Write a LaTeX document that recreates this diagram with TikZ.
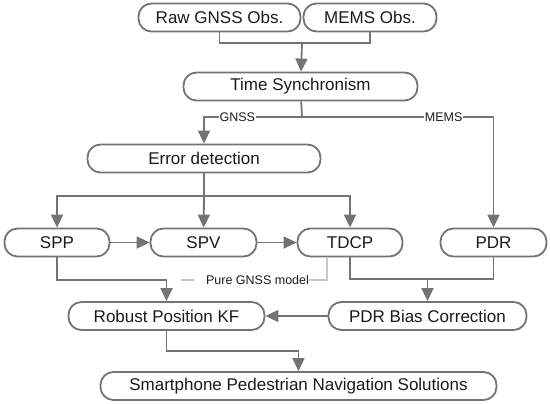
\documentclass[tikz,border=0pt]{standalone}
\usepackage{fontspec}
\setmainfont{Liberation Sans}
\usetikzlibrary{arrows.meta}
\definecolor{linegray}{HTML}{737373}
\definecolor{palegray}{HTML}{C8C8C8}
\definecolor{textblack}{HTML}{1A1A1A}
\begin{document}
\begin{tikzpicture}[x=1pt,y=-1pt,
  box/.style={draw=linegray,line width=1.8pt,rounded corners=13pt,minimum height=28pt,
    inner sep=0pt,text=textblack,font=\fontsize{17}{20}\selectfont},
  line/.style={draw=linegray,line width=1.8pt},
  arr/.style={line,-{Triangle[length=13pt,width=12pt]}},
  pale/.style={draw=palegray,line width=1.8pt},
  lbl/.style={fill=white,inner sep=1pt,text=textblack,font=\fontsize{12.5}{14}\selectfont}]
\useasboundingbox (0,0) rectangle (550,404);
% sources
\node[box,minimum width=162pt] (raw) at (219.5,17.5) {Raw GNSS Obs.};
\node[box,minimum width=133pt] (mems) at (370,17.5) {MEMS Obs.};
\node[box,minimum width=234pt] (sync) at (300.5,86.5) {Time Synchronism};
\node[box,minimum width=233pt] (err) at (204,158.5) {Error detection};
% processing row
\node[box,minimum width=105pt] (spp) at (57,242.5) {SPP};
\node[box,minimum width=106pt] (spv) at (203.5,242.5) {SPV};
\node[box,minimum width=105pt] (tdcp) at (350,242.5) {TDCP};
\node[box,minimum width=106pt] (pdr) at (493.5,242.5) {PDR};
\node[box,minimum width=196pt] (robust) at (166.5,316) {Robust Position KF};
\node[box,minimum width=198pt] (bias) at (427.5,316) {PDR Bias Correction};
\node[box,minimum width=396pt] (smart) at (298.5,386) {Smartphone Pedestrian Navigation Solutions};

\coordinate (obsjoin) at (302,43);
\coordinate (syncsplit) at (302,117);
\coordinate (errsplit) at (204,196);
\coordinate (sppjoin) at (166.5,280);
\coordinate (pdrjoin) at (427.5,279);
\coordinate (kfjoin) at (298.5,351);

\draw[line] (raw) |- (obsjoin);
\draw[line] (mems) |- (obsjoin);
\draw[arr] (obsjoin) -- (sync);
\draw[line] (sync) -- (syncsplit);
\draw[arr] (syncsplit) -| node[lbl,pos=0.33] {GNSS} (err);
\draw[arr] (syncsplit) -| node[lbl,pos=0.37] {MEMS} (pdr);

\draw[line] (err) -- (errsplit);
\draw[arr] (errsplit) -| (spp);
\draw[arr] (errsplit) -- (spv);
\draw[arr] (errsplit) -| (tdcp);
\draw[arr] (spp) -- (spv);
\draw[arr] (spv) -- (tdcp);

% pure GNSS branch
\node[lbl,inner sep=0pt] (pure) at (257.5,280) {Pure GNSS model};
\draw[pale] ([xshift=-23pt]tdcp.south) |- (pure.east);
\draw[pale] ([xshift=-12pt]pure.west) -- ++(-13,0);

\draw[line] (spp) |- (sppjoin);
\draw[arr] (sppjoin) -- (robust);
\draw[line] (tdcp) |- (pdrjoin);
\draw[line] (pdr) |- (pdrjoin);
\draw[arr] (pdrjoin) -- (bias);
\draw[arr] (bias) -- (robust);
\draw[line] (robust) |- (kfjoin);
\draw[arr] (kfjoin) -- (smart);
\end{tikzpicture}
\end{document}
